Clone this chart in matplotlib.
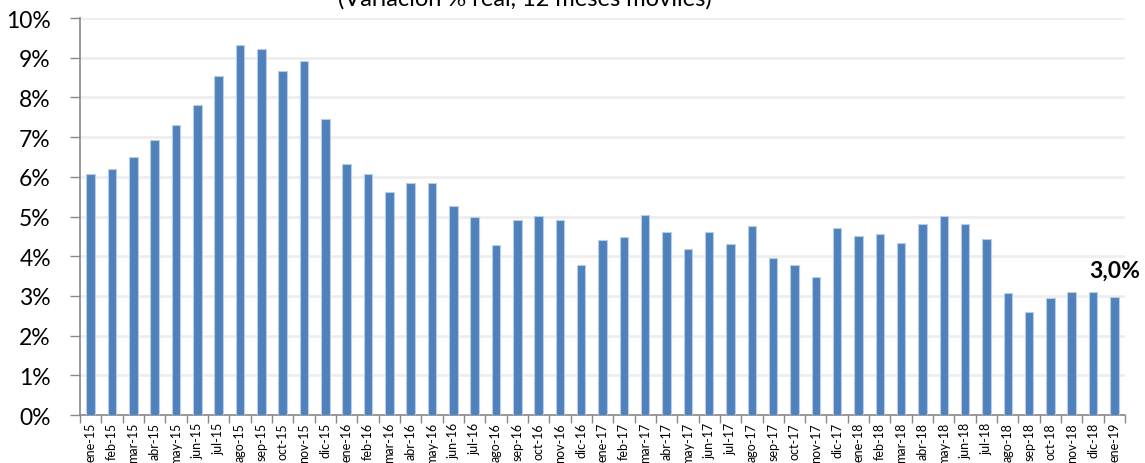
import numpy as np
import matplotlib.pyplot as plt

plt.rcParams['font.family'] = ['Lato', 'DejaVu Sans']

# meses (ene-15 .. ene-19)
meses = ['ene-15', 'feb-15', 'mar-15', 'abr-15', 'may-15', 'jun-15', 'jul-15', 'ago-15',
         'sep-15', 'oct-15', 'nov-15', 'dic-15',
         'ene-16', 'feb-16', 'mar-16', 'abr-16', 'may-16', 'jun-16', 'jul-16', 'ago-16',
         'sep-16', 'oct-16', 'nov-16', 'dic-16',
         'ene-17', 'feb-17', 'mar-17', 'abr-17', 'may-17', 'jun-17', 'jul-17', 'ago-17',
         'sep-17', 'oct-17', 'nov-17', 'dic-17',
         'ene-18', 'feb-18', 'mar-18', 'abr-18', 'may-18', 'jun-18', 'jul-18', 'ago-18',
         'sep-18', 'oct-18', 'nov-18', 'dic-18',
         'ene-19']

# variación % real, 12 meses móviles
variacion = [6.07, 6.20, 6.49, 6.92, 7.30, 7.81, 8.54, 9.33, 9.23, 8.67, 8.91, 7.46,
             6.33, 6.08, 5.62, 5.84, 5.84, 5.27, 4.99, 4.28, 4.90, 5.01, 4.90, 3.77,
             4.41, 4.49, 5.04, 4.61, 4.17, 4.60, 4.31, 4.76, 3.95, 3.77, 3.47, 4.72,
             4.52, 4.56, 4.34, 4.80, 5.02, 4.80, 4.44, 3.08, 2.59, 2.96, 3.10, 3.10,
             2.97]

ultimo_label = '3,0%'

fig = plt.figure(figsize=(11.45, 4.64), dpi=100)
ax = fig.add_axes([0.0699, 0.1034, 0.9127, 0.8556])

x = np.arange(len(meses))
ax.bar(x, variacion, width=0.4, color='#4F81BD', edgecolor='#B9CDE5', linewidth=0.8, zorder=3)

ax.set_xlim(-0.5, len(meses) - 0.5)
ax.set_ylim(0, 10)
ax.set_yticks(np.arange(0, 11, 1))
ax.set_yticklabels([f'{v}%' for v in range(11)], fontsize=16.5)
ax.yaxis.grid(True, color='#EEEEEE', linewidth=2, zorder=0)

ax.set_xticks(x)
ax.set_xticklabels(meses, rotation=90, fontsize=9)
ax.set_xticks(np.arange(-0.5, len(meses), 1), minor=True)
ax.tick_params(axis='x', which='major', length=0, pad=5)
ax.tick_params(axis='x', which='minor', length=6, color='#888888', width=1)
ax.tick_params(axis='y', length=7, color='#888888', width=1, pad=14)

for s in ['top', 'right']:
    ax.spines[s].set_visible(False)
for s in ['left', 'bottom']:
    ax.spines[s].set_color('#888888')
    ax.spines[s].set_linewidth(1.2)

ax.text(x[-1], 3.65, ultimo_label, ha='center', va='center', fontsize=16.5, fontweight='bold')

fig.text(0.458, 0.989, '(Variación % real, 12 meses móviles)', ha='center', va='baseline',
         fontsize=17)

fig.savefig('out.png', dpi=100)
